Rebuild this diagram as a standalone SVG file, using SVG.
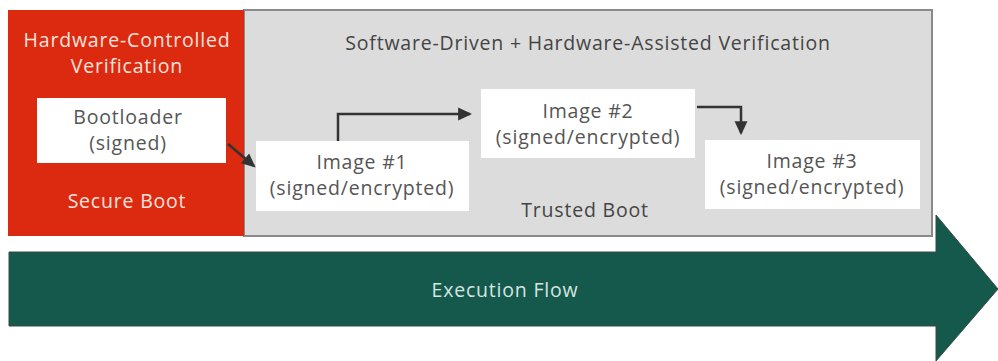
<svg xmlns="http://www.w3.org/2000/svg" width="998" height="361" viewBox="0 0 998 361">
<style>
text{font-family:"Open Sans",Lato,"Liberation Sans",sans-serif;text-anchor:middle;font-size:19.5px;letter-spacing:0.8px}
.w{fill:#fde3dc}
.d{fill:#555555}
.box{fill:#ffffff}
.con{fill:none;stroke:#333333;stroke-width:2.5}
</style>
<defs>
<marker id="ah" markerWidth="14" markerHeight="14" refX="11" refY="6" orient="auto" markerUnits="userSpaceOnUse" viewBox="0 0 13 12">
<path d="M0,0 L13,6 L0,12 Z" fill="#333333"/>
</marker>
</defs>
<rect width="998" height="361" fill="#ffffff"/>
<g id="flow">
<path d="M9,252 L936,252 L936,215 L998,289 L936,361 L936,326 L9,326 Z" fill="#14594b" stroke="#3a4a46" stroke-width="1"/>
<text x="505" y="297" style="fill:#d5e6e1">Execution Flow</text>
</g>
<g id="trusted">
<rect x="244" y="10" width="688" height="226" fill="#dcdcdc" stroke="#8a8a8a" stroke-width="2"/>
<text x="588" y="50" style="fill:#444">Software-Driven + Hardware-Assisted Verification</text>
<text x="585" y="217" style="fill:#444">Trusted Boot</text>
</g>
<g id="secure">
<rect x="8" y="10" width="236" height="226" fill="#dc2a10"/>
<text class="w" x="127" y="47">Hardware-Controlled</text>
<text class="w" x="127" y="73">Verification</text>
<text class="w" x="127" y="208">Secure Boot</text>
</g>
<g id="bootloader">
<rect class="box" x="37" y="98" width="189" height="65"/>
<text class="d" x="128" y="124">Bootloader</text>
<text class="d" x="128" y="150">(signed)</text>
</g>
<g id="image1">
<rect class="box" x="256" y="141" width="213" height="70"/>
<text class="d" x="362" y="169">Image #1</text>
<text class="d" x="362" y="195">(signed/encrypted)</text>
</g>
<g id="image2">
<rect class="box" x="481" y="89" width="214" height="69"/>
<text class="d" x="588" y="118">Image #2</text>
<text class="d" x="588" y="144">(signed/encrypted)</text>
</g>
<g id="image3">
<rect class="box" x="705" y="140" width="215" height="69"/>
<text class="d" x="812" y="168">Image #3</text>
<text class="d" x="812" y="194">(signed/encrypted)</text>
</g>
<g id="connectors">
<path class="con" d="M228,144 L254,166" marker-end="url(#ah)"/>
<path class="con" d="M338,141 L338,114 L470,114" marker-end="url(#ah)"/>
<path class="con" d="M697,107 L741,107 L741,133" marker-end="url(#ah)"/>
</g>
</svg>
